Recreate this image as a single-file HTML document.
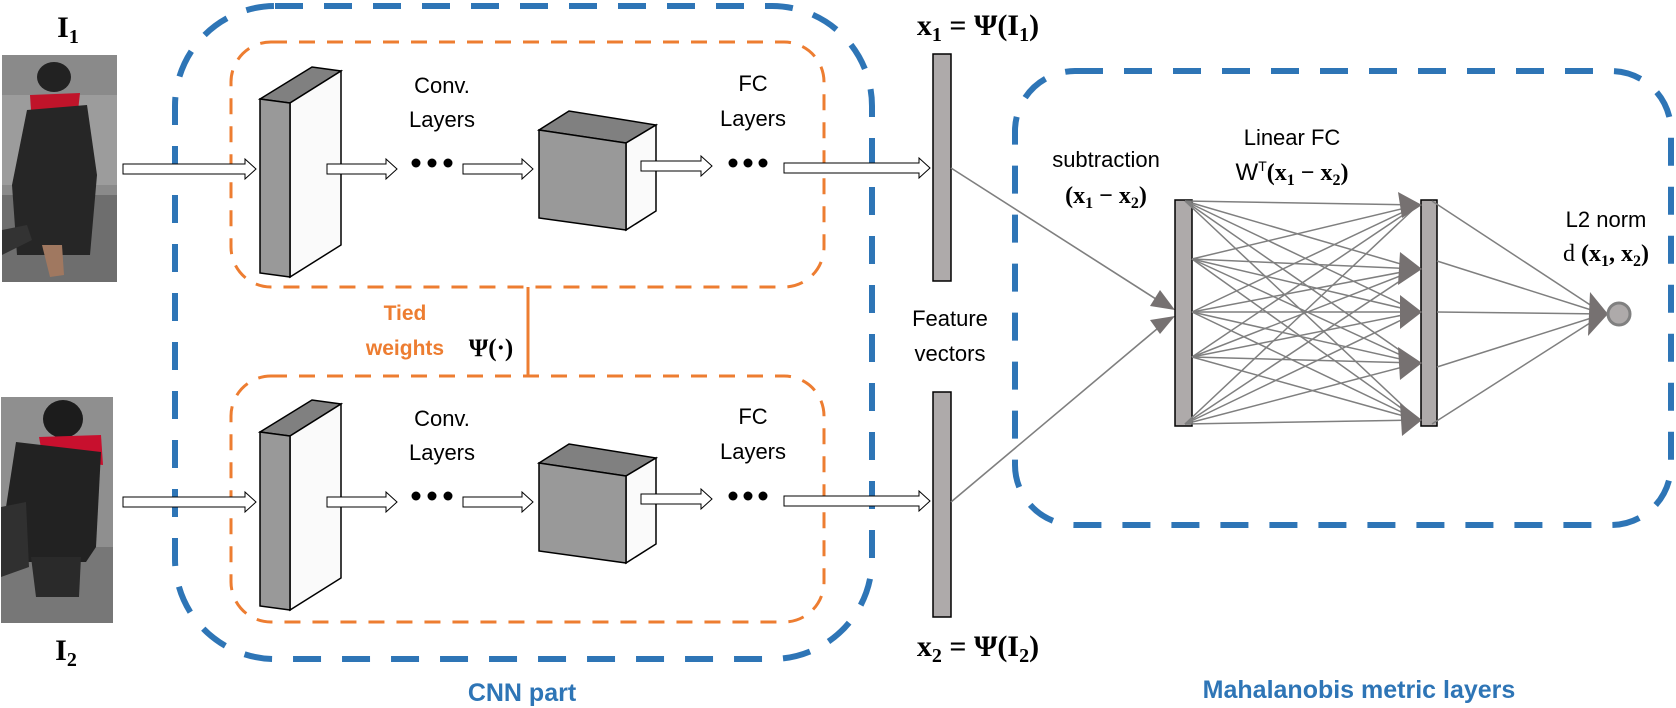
<!DOCTYPE html>
<html><head><meta charset="utf-8"><style>
html,body{margin:0;padding:0;background:#fff}
svg{display:block}
.s{font-family:"Liberation Sans",sans-serif;font-size:22px;fill:#000}
.m{font-family:"Liberation Serif",serif;font-weight:bold;fill:#000}
</style></head><body>
<svg width="1676" height="708" viewBox="0 0 1676 708" xmlns="http://www.w3.org/2000/svg">
<defs>
<g id="person1">
<rect x="0" y="0" width="115" height="227" fill="#8a8a8a"/>
<rect x="0" y="40" width="115" height="90" fill="#9c9c9c"/>
<rect x="0" y="140" width="115" height="87" fill="#6e6e6e"/>
<ellipse cx="52" cy="22" rx="17" ry="15" fill="#222"/>
<path d="M28 40 L78 38 L75 65 L30 70 Z" fill="#c0142a"/>
<path d="M25 55 L85 50 L95 120 L88 200 L15 200 L10 130 Z" fill="#262626"/>
<path d="M40 190 L60 190 L62 220 L48 222 Z" fill="#a07860"/>
<path d="M0 175 L25 170 L30 185 L0 200 Z" fill="#333"/>
</g>
<g id="person2">
<rect x="0" y="0" width="112" height="226" fill="#8f8f8f"/>
<rect x="0" y="150" width="112" height="76" fill="#777"/>
<ellipse cx="62" cy="22" rx="20" ry="19" fill="#1c1c1c"/>
<path d="M38 40 L100 38 L102 68 L42 62 Z" fill="#c8102e"/>
<path d="M15 45 L100 55 L95 150 L85 165 L20 165 L5 110 Z" fill="#222"/>
<path d="M30 160 L80 160 L78 200 L35 200 Z" fill="#2a2a2a"/>
<path d="M0 110 L25 105 L28 170 L0 180 Z" fill="#303030"/>
</g>
<g id="row">
<polygon points="123,164 245,164 245,159 256,169 245,179 245,174 123,174" fill="#fff" stroke="#000" stroke-width="1"/>
<!-- conv block -->
<polygon points="260,99 290,103 341,71 312,67" fill="#808080" stroke="#000" stroke-width="1.5"/>
<polygon points="290,103 341,71 341,245 290,277" fill="#fafafa" stroke="#000" stroke-width="1.5"/>
<polygon points="260,99 290,103 290,277 260,273" fill="#999" stroke="#000" stroke-width="1.5"/>
<polygon points="327,164 386,164 386,159 397,169 386,179 386,174 327,174" fill="#fff" stroke="#000" stroke-width="1"/>
<circle cx="416" cy="163" r="4.5"/><circle cx="432" cy="163" r="4.5"/><circle cx="448" cy="163" r="4.5"/>
<polygon points="463,164 522,164 522,159 533,169 522,179 522,174 463,174" fill="#fff" stroke="#000" stroke-width="1"/>
<!-- cube -->
<polygon points="539,130 626,143 656,125 569,111" fill="#808080" stroke="#000" stroke-width="1.5"/>
<polygon points="626,143 656,125 656,211 626,230" fill="#fafafa" stroke="#000" stroke-width="1.5"/>
<polygon points="539,130 626,143 626,230 539,218" fill="#999" stroke="#000" stroke-width="1.5"/>
<polygon points="641,161 701,161 701,156 712,166 701,176 701,171 641,171" fill="#fff" stroke="#000" stroke-width="1"/>
<circle cx="733" cy="163" r="4.5"/><circle cx="748" cy="163" r="4.5"/><circle cx="763" cy="163" r="4.5"/>
<polygon points="784,163 919,163 919,158 930,168 919,178 919,173 784,173" fill="#fff" stroke="#000" stroke-width="1"/>
<text class="s" x="442" y="93" font-size="23" text-anchor="middle">Conv.</text>
<text class="s" x="442" y="127" font-size="23" text-anchor="middle">Layers</text>
<text class="s" x="753" y="91" font-size="23" text-anchor="middle">FC</text>
<text class="s" x="753" y="126" font-size="23" text-anchor="middle">Layers</text>
</g>
</defs>

<use href="#person1" x="2" y="55"/>
<use href="#person2" x="1" y="397"/>

<text class="m" x="68" y="37" font-size="30" text-anchor="middle">I<tspan font-size="20" dy="6">1</tspan></text>
<text class="m" x="66" y="660" font-size="30" text-anchor="middle">I<tspan font-size="20" dy="6">2</tspan></text>

<rect x="175" y="6" width="697" height="653" rx="100" fill="none" stroke="#2e75b6" stroke-width="6" stroke-dasharray="28 21"/>
<rect x="231" y="42" width="593" height="245" rx="40" fill="none" stroke="#ed7d31" stroke-width="3" stroke-dasharray="16 12"/>
<rect x="231" y="376" width="593" height="246" rx="40" fill="none" stroke="#ed7d31" stroke-width="3" stroke-dasharray="16 12"/>
<line x1="528" y1="287" x2="528" y2="376" stroke="#ed7d31" stroke-width="3"/>

<use href="#row"/>
<use href="#row" y="333"/>

<text x="405" y="320" font-family="Liberation Sans,sans-serif" font-weight="bold" font-size="21" fill="#ed7d31" text-anchor="middle">Tied</text>
<text x="405" y="355" font-family="Liberation Sans,sans-serif" font-weight="bold" font-size="21" fill="#ed7d31" text-anchor="middle">weights</text>
<text class="m" x="491" y="356" font-size="25" text-anchor="middle">Ψ(·)</text>

<text x="522" y="701" font-family="Liberation Sans,sans-serif" font-weight="bold" font-size="25" fill="#2e75b6" text-anchor="middle">CNN part</text>

<rect x="933" y="54" width="18" height="227" fill="#aeaaaa" stroke="#000" stroke-width="1.5"/>
<rect x="933" y="392" width="18" height="225" fill="#aeaaaa" stroke="#000" stroke-width="1.5"/>
<text class="m" x="978" y="35" font-size="30" text-anchor="middle">x<tspan font-size="20" dy="6">1</tspan><tspan dy="-6"> = Ψ(I</tspan><tspan font-size="20" dy="6">1</tspan><tspan dy="-6">)</tspan></text>
<text class="m" x="978" y="656" font-size="30" text-anchor="middle">x<tspan font-size="20" dy="6">2</tspan><tspan dy="-6"> = Ψ(I</tspan><tspan font-size="20" dy="6">2</tspan><tspan dy="-6">)</tspan></text>
<text class="s" x="950" y="326" text-anchor="middle">Feature</text>
<text class="s" x="950" y="361" text-anchor="middle">vectors</text>

<rect x="1015" y="71" width="656" height="454" rx="60" fill="none" stroke="#2e75b6" stroke-width="6" stroke-dasharray="28 21"/>
<text x="1359" y="698" font-family="Liberation Sans,sans-serif" font-weight="bold" font-size="25" fill="#2e75b6" text-anchor="middle">Mahalanobis metric layers</text>

<g stroke="#7f7f7f" stroke-width="1.6" fill="none">
<line x1="951" y1="168" x2="1170" y2="308"/>
<line x1="951" y1="502" x2="1170" y2="318"/>
</g>
<g fill="#767171">
<polygon points="1175,310 1150,306 1160,290"/>
<polygon points="1175,316 1160,334 1150,320"/>
</g>

<rect x="1175" y="200" width="17" height="226" fill="#aeaaaa" stroke="#000" stroke-width="1.5"/>
<rect x="1421" y="200" width="16" height="226" fill="#aeaaaa" stroke="#000" stroke-width="1.5"/>

<g stroke="#7f7f7f" stroke-width="1.5">
<line x1="1185" y1="201" x2="1418" y2="205"/><line x1="1185" y1="201" x2="1418" y2="269"/><line x1="1185" y1="201" x2="1418" y2="312"/><line x1="1185" y1="201" x2="1418" y2="363"/><line x1="1185" y1="201" x2="1418" y2="420"/>
<line x1="1192" y1="259" x2="1418" y2="205"/><line x1="1192" y1="259" x2="1418" y2="269"/><line x1="1192" y1="259" x2="1418" y2="312"/><line x1="1192" y1="259" x2="1418" y2="363"/><line x1="1192" y1="259" x2="1418" y2="420"/>
<line x1="1192" y1="312" x2="1418" y2="205"/><line x1="1192" y1="312" x2="1418" y2="269"/><line x1="1192" y1="312" x2="1418" y2="312"/><line x1="1192" y1="312" x2="1418" y2="363"/><line x1="1192" y1="312" x2="1418" y2="420"/>
<line x1="1192" y1="357" x2="1418" y2="205"/><line x1="1192" y1="357" x2="1418" y2="269"/><line x1="1192" y1="357" x2="1418" y2="312"/><line x1="1192" y1="357" x2="1418" y2="363"/><line x1="1192" y1="357" x2="1418" y2="420"/>
<line x1="1185" y1="424" x2="1418" y2="205"/><line x1="1185" y1="424" x2="1418" y2="269"/><line x1="1185" y1="424" x2="1418" y2="312"/><line x1="1185" y1="424" x2="1418" y2="363"/><line x1="1185" y1="424" x2="1418" y2="420"/>
<line x1="1432" y1="201" x2="1604" y2="314"/><line x1="1437" y1="261" x2="1604" y2="314"/><line x1="1437" y1="312" x2="1604" y2="314"/><line x1="1437" y1="367" x2="1604" y2="314"/><line x1="1432" y1="424" x2="1604" y2="314"/>
</g>
<g fill="#767171">
<polygon points="1422,205 1398,192 1402,218"/>
<polygon points="1422,269 1400,252 1398,285"/>
<polygon points="1422,312 1400,295 1400,329"/>
<polygon points="1422,363 1398,347 1400,380"/>
<polygon points="1422,420 1400,403 1402,436"/>
<polygon points="1608,314 1590,292 1588,336"/>
</g>
<circle cx="1619" cy="314" r="11" fill="#aeaaaa" stroke="#808080" stroke-width="3"/>

<text class="s" x="1106" y="167" text-anchor="middle">subtraction</text>
<text class="m" x="1106" y="203" font-size="24" text-anchor="middle">(x<tspan font-size="16" dy="5">1</tspan><tspan dy="-5"> − x</tspan><tspan font-size="16" dy="5">2</tspan><tspan dy="-5">)</tspan></text>
<text class="s" x="1292" y="145" text-anchor="middle">Linear FC</text>
<text x="1292" y="180" font-size="24" text-anchor="middle"><tspan font-family="Liberation Sans,sans-serif">W</tspan><tspan font-family="Liberation Sans,sans-serif" font-size="14" dy="-9">T</tspan><tspan class="m" dy="9">(x</tspan><tspan class="m" font-size="16" dy="5">1</tspan><tspan class="m" dy="-5"> − x</tspan><tspan class="m" font-size="16" dy="5">2</tspan><tspan class="m" dy="-5">)</tspan></text>
<text class="s" x="1606" y="227" text-anchor="middle">L2 norm</text>
<text class="m" x="1606" y="261" font-size="24" text-anchor="middle"><tspan font-weight="normal">d </tspan>(x<tspan font-size="16" dy="5">1</tspan><tspan dy="-5">, x</tspan><tspan font-size="16" dy="5">2</tspan><tspan dy="-5">)</tspan></text>
</svg>
</body></html>
